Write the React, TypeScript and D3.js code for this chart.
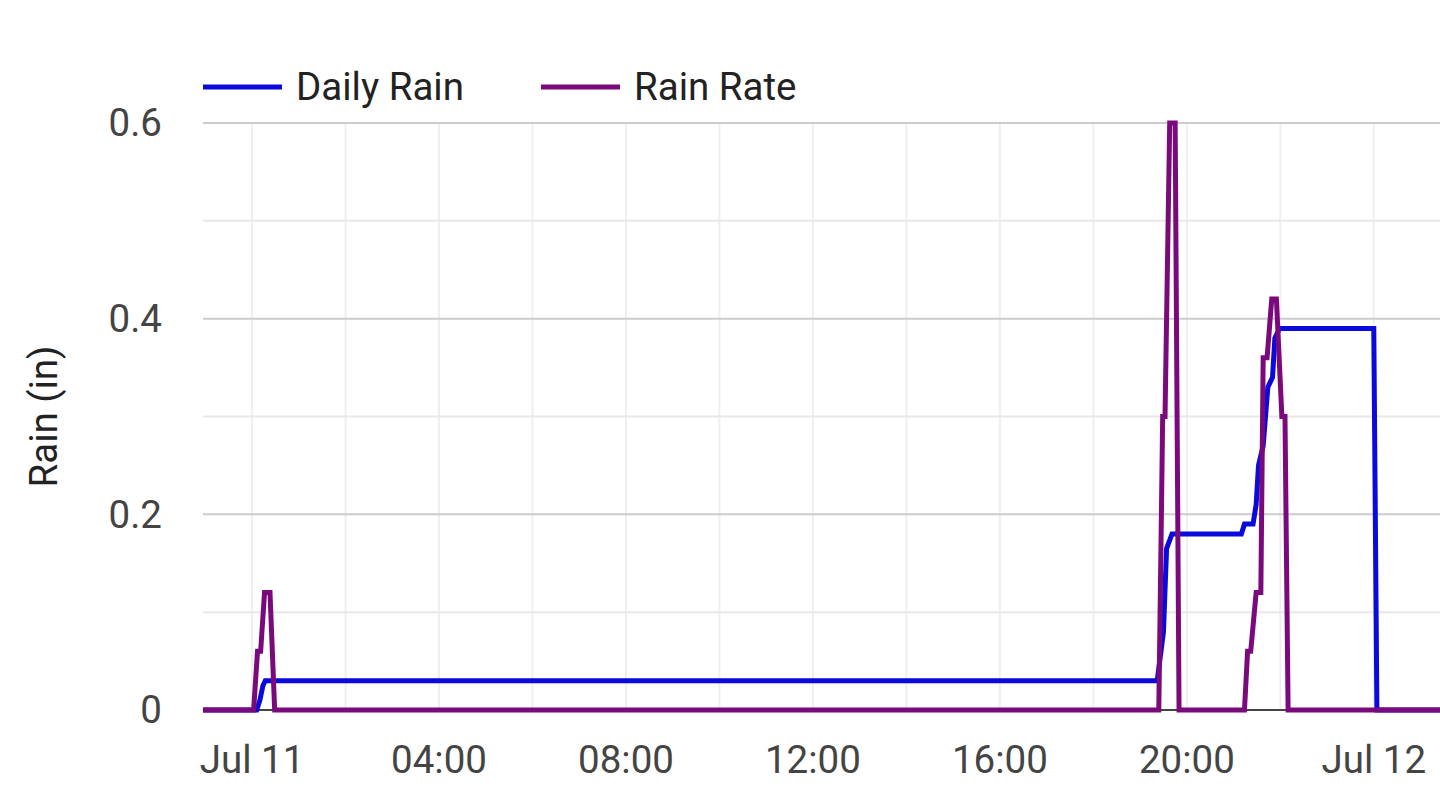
import React, { useEffect, useRef } from 'react';
import * as d3 from 'd3';

// Daily Rain series (inches), times are UTC
const dailyRainTimes = [
  '2024-07-10T22:57', '2024-07-11T00:06', '2024-07-11T00:10', '2024-07-11T00:14', '2024-07-11T00:17',
  '2024-07-11T19:22', '2024-07-11T19:30', '2024-07-11T19:34', '2024-07-11T19:41', '2024-07-11T21:10',
  '2024-07-11T21:14', '2024-07-11T21:25', '2024-07-11T21:29', '2024-07-11T21:32', '2024-07-11T21:38',
  '2024-07-11T21:44', '2024-07-11T21:50', '2024-07-11T21:53', '2024-07-11T21:59', '2024-07-12T00:00',
  '2024-07-12T00:04', '2024-07-12T01:25',
];
const dailyRainValues = [
  0, 0, 0.01, 0.025, 0.03,
  0.03, 0.08, 0.165, 0.18, 0.18,
  0.19, 0.19, 0.21, 0.25, 0.27,
  0.33, 0.34, 0.38, 0.39, 0.39,
  0, 0,
];

// Rain Rate series (in/h)
const rainRateTimes = [
  '2024-07-10T22:57', '2024-07-11T00:02', '2024-07-11T00:07', '2024-07-11T00:11', '2024-07-11T00:16',
  '2024-07-11T00:23', '2024-07-11T00:29', '2024-07-11T19:24', '2024-07-11T19:29', '2024-07-11T19:32',
  '2024-07-11T19:38', '2024-07-11T19:45', '2024-07-11T19:50', '2024-07-11T21:14', '2024-07-11T21:18',
  '2024-07-11T21:22', '2024-07-11T21:29', '2024-07-11T21:35', '2024-07-11T21:38', '2024-07-11T21:43',
  '2024-07-11T21:49', '2024-07-11T21:55', '2024-07-11T22:02', '2024-07-11T22:06', '2024-07-11T22:10',
  '2024-07-12T01:25',
];
const rainRateValues = [
  0, 0, 0.06, 0.06, 0.12,
  0.12, 0, 0, 0.3, 0.3,
  0.6, 0.6, 0, 0, 0.06,
  0.06, 0.12, 0.12, 0.36, 0.36,
  0.42, 0.42, 0.3, 0.3, 0,
  0,
];

const yMajorTicks = [0, 0.2, 0.4, 0.6];
const yMinorTicks = [0.1, 0.3, 0.5];
const seriesNames = ['Daily Rain', 'Rain Rate'];
const seriesColors = ['#0a0adc', '#7a0a7c'];

const W = 1440;
const H = 796;
const FONT = 'Roboto, "Noto Sans", sans-serif';
const FS = 38.5;

interface Pt {
  t: Date;
  v: number;
}

const parse = (s: string) => new Date(s + ':00Z');

const App: React.FC = () => {
  const ref = useRef<SVGSVGElement | null>(null);

  useEffect(() => {
    if (!ref.current) return;
    const svg = d3.select<SVGSVGElement, unknown>(ref.current);
    svg.selectAll('*').remove();

    const left = 203;
    const right = 1440;
    const top = 123;
    const bottom = 710;

    const x = d3
      .scaleUtc()
      .domain([parse('2024-07-10T22:57'), parse('2024-07-12T01:25')])
      .range([left, right]);
    const y = d3.scaleLinear().domain([0, 0.6]).range([bottom, top]);

    const defs = svg.append('defs');
    defs
      .append('clipPath')
      .attr('id', 'plot-clip')
      .append('rect')
      .attr('x', left)
      .attr('y', top - 3)
      .attr('width', right - left)
      .attr('height', bottom - top + 6);

    // vertical grid every 2 hours
    const gridHours = x.ticks(d3.utcHour.every(2) as d3.TimeInterval);
    svg
      .append('g')
      .selectAll('line')
      .data(gridHours)
      .enter()
      .append('line')
      .attr('x1', (d: Date) => x(d))
      .attr('x2', (d: Date) => x(d))
      .attr('y1', top)
      .attr('y2', bottom)
      .attr('stroke', '#efefef')
      .attr('stroke-width', 2);

    // minor horizontal grid
    svg
      .append('g')
      .selectAll('line')
      .data(yMinorTicks)
      .enter()
      .append('line')
      .attr('x1', left)
      .attr('x2', right)
      .attr('y1', (d: number) => y(d))
      .attr('y2', (d: number) => y(d))
      .attr('stroke', '#e8e8e8')
      .attr('stroke-width', 2);

    // major horizontal grid
    svg
      .append('g')
      .selectAll('line')
      .data(yMajorTicks.filter((d) => d > 0))
      .enter()
      .append('line')
      .attr('x1', left)
      .attr('x2', right)
      .attr('y1', (d: number) => y(d))
      .attr('y2', (d: number) => y(d))
      .attr('stroke', '#cccccc')
      .attr('stroke-width', 2);

    // baseline
    svg
      .append('line')
      .attr('x1', left)
      .attr('x2', right)
      .attr('y1', y(0))
      .attr('y2', y(0))
      .attr('stroke', '#444444')
      .attr('stroke-width', 2);

    // y tick labels
    svg
      .append('g')
      .selectAll('text')
      .data(yMajorTicks)
      .enter()
      .append('text')
      .attr('x', 162)
      .attr('y', (d: number) => y(d))
      .attr('dy', '0.35em')
      .attr('text-anchor', 'end')
      .attr('font-family', FONT)
      .attr('font-size', FS)
      .attr('fill', '#444444')
      .text((d: number) => (d === 0 ? '0' : d3.format('.1f')(d)));

    // x tick labels every 4 hours
    const labelHours = x.ticks(d3.utcHour.every(4) as d3.TimeInterval);
    const fmtDay = d3.utcFormat('%b %d');
    const fmtHour = d3.utcFormat('%H:%M');
    svg
      .append('g')
      .selectAll('text')
      .data(labelHours)
      .enter()
      .append('text')
      .attr('x', (d: Date) => x(d))
      .attr('y', 773)
      .attr('text-anchor', 'middle')
      .attr('font-family', FONT)
      .attr('font-size', FS)
      .attr('fill', '#444444')
      .text((d: Date) => (d.getUTCHours() === 0 ? fmtDay(d) : fmtHour(d)));

    // y axis title
    svg
      .append('text')
      .attr('transform', `translate(57, ${(top + bottom) / 2}) rotate(-90)`)
      .attr('text-anchor', 'middle')
      .attr('font-family', FONT)
      .attr('font-size', FS)
      .attr('fill', '#222222')
      .text('Rain (in)');

    const line = d3
      .line<Pt>()
      .x((d: Pt) => x(d.t))
      .y((d: Pt) => y(d.v));

    const series: Pt[][] = [
      dailyRainTimes.map((t, i) => ({ t: parse(t), v: dailyRainValues[i] })),
      rainRateTimes.map((t, i) => ({ t: parse(t), v: rainRateValues[i] })),
    ];

    const lines = svg.append('g').attr('clip-path', 'url(#plot-clip)');
    series.forEach((s, i) => {
      lines
        .append('path')
        .datum(s)
        .attr('d', line)
        .attr('fill', 'none')
        .attr('stroke', seriesColors[i])
        .attr('stroke-width', 5);
    });

    // legend
    const legendX = [203, 541];
    const legend = svg.append('g');
    seriesNames.forEach((name, i) => {
      legend
        .append('line')
        .attr('x1', legendX[i])
        .attr('x2', legendX[i] + 79)
        .attr('y1', 87)
        .attr('y2', 87)
        .attr('stroke', seriesColors[i])
        .attr('stroke-width', 5);
      legend
        .append('text')
        .attr('x', legendX[i] + 93)
        .attr('y', 87)
        .attr('dy', '0.35em')
        .attr('font-family', FONT)
        .attr('font-size', FS)
        .attr('fill', '#222222')
        .text(name);
    });
  }, []);

  return (
    <svg
      ref={ref}
      width={W}
      height={H}
      style={{ position: 'absolute', left: 0, top: 0, background: '#ffffff' }}
    />
  );
};

export default App;
